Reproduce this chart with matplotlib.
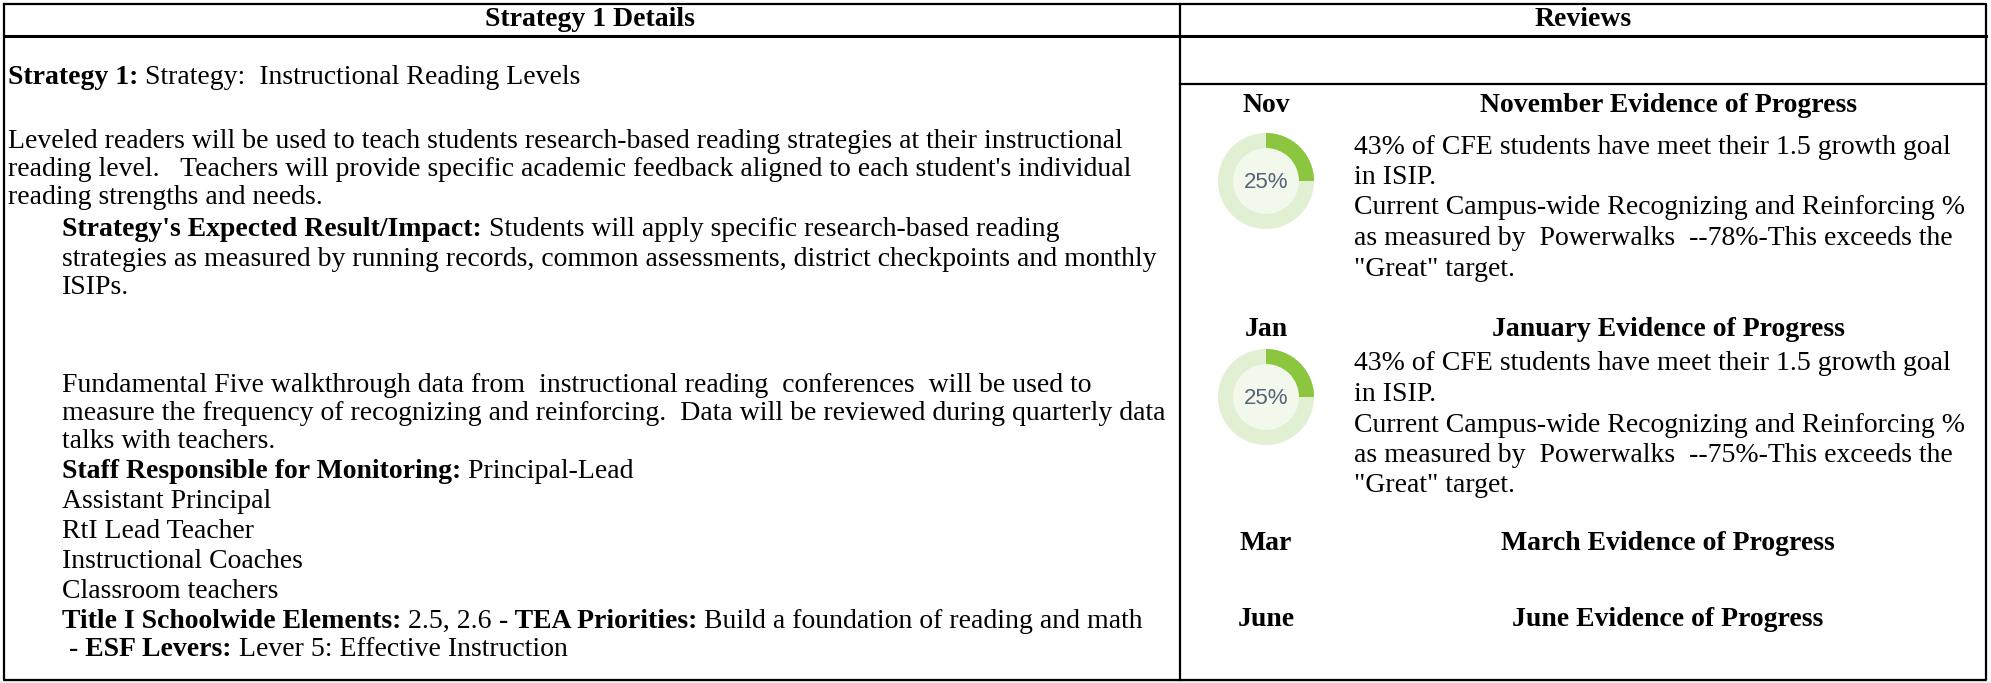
import matplotlib
matplotlib.use("Agg")
import matplotlib.pyplot as plt
from matplotlib.patches import Wedge, Circle, Rectangle

# ---------------------------------------------------------------- data
header_left = "Strategy 1 Details"
header_right = "Reviews"

# each line is a list of (text, bold) runs
detail_lines = [
    [("Strategy 1:", True), (" Strategy:  Instructional Reading Levels", False)],
    [("Leveled readers will be used to teach students research-based reading strategies at their instructional", False)],
    [("reading level.   Teachers will provide specific academic feedback aligned to each student's individual", False)],
    [("reading strengths and needs.", False)],
    [("Strategy's Expected Result/Impact:", True), (" Students will apply specific research-based reading", False)],
    [("strategies as measured by running records, common assessments, district checkpoints and monthly", False)],
    [("ISIPs.", False)],
    [("Fundamental Five walkthrough data from  instructional reading  conferences  will be used to", False)],
    [("measure the frequency of recognizing and reinforcing.  Data will be reviewed during quarterly data", False)],
    [("talks with teachers.", False)],
    [("Staff Responsible for Monitoring:", True), (" Principal-Lead", False)],
    [("Assistant Principal", False)],
    [("RtI Lead Teacher", False)],
    [("Instructional Coaches", False)],
    [("Classroom teachers", False)],
    [("Title I Schoolwide Elements:", True), (" 2.5, 2.6 ", False), ("- TEA Priorities:", True),
     (" Build a foundation of reading and math", False)],
    [(" - ESF Levers:", True), (" Lever 5: Effective Instruction", False)],
]

months = ["Nov", "Jan", "Mar", "June"]
review_titles = ["November Evidence of Progress", "January Evidence of Progress",
                 "March Evidence of Progress", "June Evidence of Progress"]
review_pct = [25, 25, None, None]
review_text = [
    ["43% of CFE students have meet their 1.5 growth goal", "in ISIP.",
     "Current Campus-wide Recognizing and Reinforcing %",
     "as measured by  Powerwalks  --78%-This exceeds the", "\"Great\" target."],
    ["43% of CFE students have meet their 1.5 growth goal", "in ISIP.",
     "Current Campus-wide Recognizing and Reinforcing %",
     "as measured by  Powerwalks  --75%-This exceeds the", "\"Great\" target."],
    [],
    [],
]

# ---------------------------------------------------------------- layout
W, H = 1991, 683
FS = 20
SERIF = "Liberation Serif"
left_x = [8, 8, 8, 8, 62, 62, 62, 62, 62, 62, 62, 62, 62, 62, 62, 62, 62]
left_y = [78, 142, 170, 198, 230, 259, 288, 385, 413, 441, 472, 502, 531, 561, 591, 621, 650]
month_y = [106, 330, 543, 620]
donut_y = [181, 397]
text_y0 = [147, 364]
LINE = 30.5
col_x = 1180
month_x = 1266
title_x = 1668
rtext_x = 1354

fig = plt.figure(figsize=(W / 100, H / 100), dpi=100)
ax = fig.add_axes([0, 0, 1, 1])
ax.set_xlim(0, W)
ax.set_ylim(H, 0)
ax.axis("off")
renderer = fig.canvas.get_renderer()
inv = ax.transData.inverted()


def draw_runs(x, y, runs):
    for txt, bold in runs:
        t = ax.text(x, y, txt, fontsize=FS, family=SERIF,
                    fontweight="bold" if bold else "normal",
                    ha="left", va="center", color="black")
        bb = t.get_window_extent(renderer=renderer)
        x = inv.transform((bb.x1, bb.y0))[0]


# borders
ax.add_patch(Rectangle((0, 681), W, 2, color="#eeeeee", lw=0))
lw = 1.6
ax.plot([4, 1986, 1986, 4, 4], [4, 4, 680, 680, 4], color="black", lw=lw)
ax.plot([4, 1986], [36, 36], color="black", lw=2.2)
ax.plot([col_x, col_x], [4, 680], color="black", lw=lw)
ax.plot([col_x, 1986], [84, 84], color="black", lw=lw)

# headers
ax.text(col_x / 2, 20, header_left, fontsize=FS, family=SERIF, fontweight="bold",
        ha="center", va="center")
ax.text((col_x + 1986) / 2, 20, header_right, fontsize=FS, family=SERIF, fontweight="bold",
        ha="center", va="center")

# left column
for x, y, runs in zip(left_x, left_y, detail_lines):
    draw_runs(x, y, runs)

# right column
for i, m in enumerate(months):
    ax.text(month_x, month_y[i], m, fontsize=FS, family=SERIF, fontweight="bold",
            ha="center", va="center")
    ax.text(title_x, month_y[i], review_titles[i], fontsize=FS, family=SERIF,
            fontweight="bold", ha="center", va="center")
    if review_pct[i] is not None:
        cy = donut_y[i]
        r_out, r_in = 48, 33
        ax.add_patch(Circle((month_x, cy), r_out, color="#e1efd3", lw=0))
        ax.add_patch(Circle((month_x, cy), r_in, color="#f2f8ec", lw=0))
        # y axis is inverted, so angles run clockwise on screen
        ax.add_patch(Wedge((month_x, cy), r_out, -90, -90 + review_pct[i] * 3.6,
                           width=r_out - r_in, color="#8cc63f", lw=0))
        ax.text(month_x, cy + 2, f"{review_pct[i]}%", fontsize=16, family="Liberation Sans",
                color="#56647a", ha="center", va="center")
    for j, line in enumerate(review_text[i]):
        ax.text(rtext_x, text_y0[i] + j * LINE, line, fontsize=FS, family=SERIF,
                ha="left", va="center")

fig.savefig("out.png", dpi=100)
